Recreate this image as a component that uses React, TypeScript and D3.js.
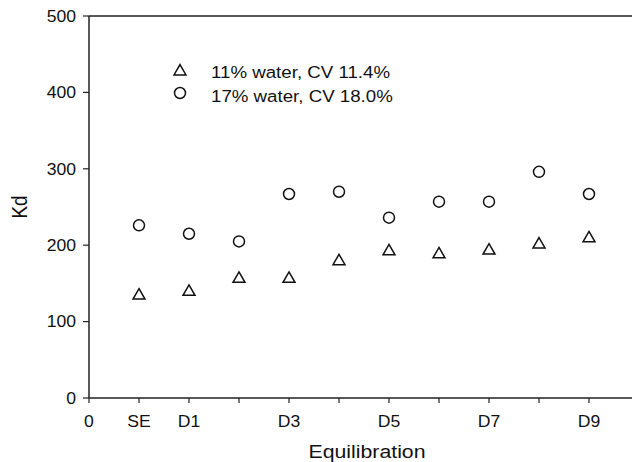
import React from "react";
import * as d3 from "d3";

const xTickValues = [0, 1, 2, 3, 4, 5, 6, 7, 8, 9, 10];
const xTickLabels = ["0", "SE", "D1", "", "D3", "", "D5", "", "D7", "", "D9"];
const yTickValues = [0, 100, 200, 300, 400, 500];
const positions = [1, 2, 3, 4, 5, 6, 7, 8, 9, 10];
const water11 = [134, 139, 156, 156, 179, 192, 188, 193, 201, 209];
const water17 = [226, 215, 205, 267, 270, 236, 257, 257, 296, 267];
const legendLabels = ["11% water, CV 11.4%", "17% water, CV 18.0%"];

const W = 632;
const H = 462;
const left = 89;
const top = 16;
const bottom = 398;

function T(props: {
  x: number;
  y: number;
  size: number;
  sx?: number;
  anchor?: string;
  dy?: string;
  rotate?: number;
  children: React.ReactNode;
}) {
  const { x, y, size, sx = 1.12, anchor = "start", dy, rotate, children } = props;
  const tr = rotate
    ? `translate(${x},${y}) scale(${sx},1) rotate(${rotate})`
    : `translate(${x},${y}) scale(${sx},1)`;
  return (
    <text transform={tr} textAnchor={anchor} dy={dy} fontSize={size} fill="#111">
      {children}
    </text>
  );
}

export default function App() {
  const x = d3.scaleLinear().domain([0, 11]).range([left, left + 550]);
  const y = d3.scaleLinear().domain([0, 500]).range([bottom, top]);
  const font = "'Liberation Sans', Arial, sans-serif";
  const tri = d3.symbol().type(d3.symbolTriangle).size(62)() as string;
  return (
    <svg
      width={W}
      height={H}
      style={{ position: "absolute", left: 0, top: 0, background: "#fff" }}
      fontFamily={font}
    >
      <line x1={left} x2={W} y1={top} y2={top} stroke="#222" strokeWidth={1.5} />
      <line x1={left} x2={left} y1={top} y2={bottom} stroke="#222" strokeWidth={1.5} />
      <line x1={left} x2={W} y1={bottom} y2={bottom} stroke="#222" strokeWidth={1.5} />
      {yTickValues.map((v) => (
        <g key={"y" + v}>
          <line x1={left - 6} x2={left} y1={y(v)} y2={y(v)} stroke="#222" strokeWidth={1.2} />
          <T x={left - 13} y={y(v)} dy="0.36em" anchor="end" size={16} sx={1.1}>
            {v}
          </T>
        </g>
      ))}
      {xTickValues.map((v, i) => (
        <g key={"x" + v}>
          <line x1={x(v)} x2={x(v)} y1={bottom} y2={bottom + 5} stroke="#222" strokeWidth={1.2} />
          <T x={x(v)} y={bottom + 29} anchor="middle" size={16} sx={1.1}>
            {xTickLabels[i]}
          </T>
        </g>
      ))}
      <T x={367} y={458} anchor="middle" size={18.5} sx={1.15}>
        Equilibration
      </T>
      <T x={27} y={207} anchor="middle" size={19} sx={1.2} rotate={-90}>
        Kd
      </T>
      {positions.map((p, i) => (
        <path
          key={"t" + p}
          d={tri}
          transform={`translate(${x(p)}, ${y(water11[i])})`}
          fill="none"
          stroke="#111"
          strokeWidth={1.5}
        />
      ))}
      {positions.map((p, i) => (
        <circle
          key={"c" + p}
          cx={x(p)}
          cy={y(water17[i])}
          r={5.5}
          fill="none"
          stroke="#111"
          strokeWidth={1.5}
        />
      ))}
      <path d={tri} transform="translate(180, 71.5)" fill="none" stroke="#111" strokeWidth={1.5} />
      <T x={211} y={78} size={17} sx={1.1}>
        {legendLabels[0]}
      </T>
      <circle cx={180} cy={93} r={5.5} fill="none" stroke="#111" strokeWidth={1.5} />
      <T x={211} y={101.5} size={17} sx={1.1}>
        {legendLabels[1]}
      </T>
    </svg>
  );
}
